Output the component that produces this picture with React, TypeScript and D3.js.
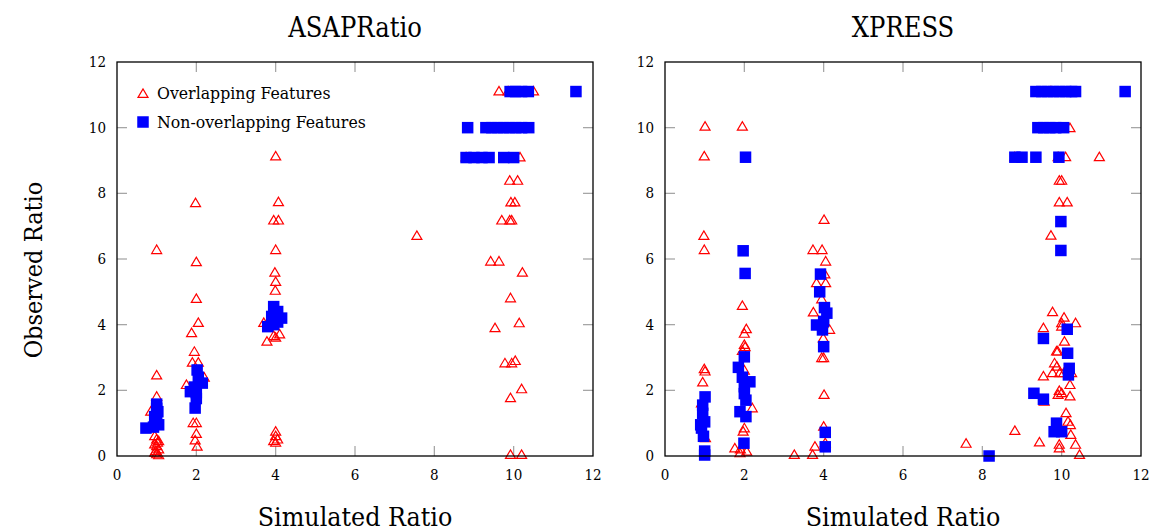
import React from "react";
import * as d3 from "d3";

const xTicks = [0, 2, 4, 6, 8, 10, 12];
const yTicks = [0, 2, 4, 6, 8, 10, 12];
const panelTitles = ["ASAPRatio", "XPRESS"];
const legendLabels = ["Overlapping Features", "Non-overlapping Features"];

const asapOverlapping: [number, number][] = [
  [1.0, 6.27], [1.0, 2.45], [1.0, 1.8], [0.85, 1.35], [1.02, 0.95],
  [0.95, 0.6], [1.0, 0.5], [1.05, 0.45], [0.95, 0.35], [1.0, 0.3], [1.05, 0.2],
  [0.95, 0.1], [1.0, 0.05], [1.05, 0.02], [0.98, 0.15], [1.02, 0.4],
  [1.98, 7.7], [2.0, 5.9], [2.0, 4.78], [2.05, 4.05], [1.88, 3.74], [1.95, 3.17],
  [1.9, 2.84], [2.05, 2.84], [1.75, 2.16], [2.2, 2.38], [1.92, 1.0], [2.0, 1.0],
  [2.0, 0.67], [1.97, 0.47], [2.02, 0.28],
  [4.0, 9.12], [4.07, 7.73], [3.95, 7.17], [4.07, 7.17], [4.0, 6.27], [3.98, 5.58],
  [4.0, 5.3], [3.99, 5.03], [3.7, 4.05], [3.78, 3.48], [3.95, 3.65], [4.1, 3.7],
  [4.0, 3.6], [4.0, 0.74], [4.0, 0.6], [4.05, 0.5], [3.95, 0.45], [4.0, 0.4],
  [7.56, 6.7],
  [9.63, 11.1], [9.86, 11.1], [10.5, 11.1], [8.8, 9.09], [10.16, 9.09],
  [9.9, 8.38], [10.1, 8.38], [9.93, 7.72], [10.03, 7.72], [9.7, 7.17], [9.9, 7.17],
  [9.95, 7.17], [9.42, 5.92], [9.63, 5.92], [10.22, 5.58], [9.92, 4.8], [9.53, 3.89],
  [10.14, 4.04], [9.78, 2.82], [9.95, 2.82], [10.04, 2.89], [10.2, 2.03], [9.92, 1.76],
  [9.92, 0.03], [10.2, 0.03],
];

const asapNonOverlapping: [number, number][] = [
  [0.73, 0.85], [1.0, 1.58], [1.0, 1.1], [1.03, 1.35], [0.92, 0.88], [1.05, 0.95],
  [0.95, 1.2], [1.0, 1.45],
  [2.02, 2.62], [2.15, 2.22], [1.85, 1.96], [2.0, 1.93], [1.97, 1.46], [2.05, 2.4],
  [1.95, 2.1], [2.0, 1.75],
  [3.95, 4.55], [4.05, 4.4], [4.15, 4.2], [3.8, 3.94], [3.95, 4.0], [4.05, 4.08],
  [3.9, 4.25],
  [9.91, 11.1], [10.05, 11.1], [10.2, 11.1], [10.37, 11.1], [11.57, 11.1],
  [8.84, 10.0], [9.3, 10.0], [9.45, 10.0], [9.6, 10.0], [9.75, 10.0], [9.9, 10.0],
  [10.05, 10.0], [10.2, 10.0], [10.38, 10.0],
  [8.8, 9.09], [9.0, 9.09], [9.2, 9.09], [9.38, 9.09], [9.75, 9.09], [10.0, 9.09],
];

const xpressOverlapping: [number, number][] = [
  [1.01, 10.03], [0.99, 9.12], [0.98, 6.7], [0.99, 6.27], [0.99, 2.64], [1.01, 2.57],
  [0.95, 2.24], [0.92, 1.6], [1.02, 0.54],
  [1.95, 10.03], [1.95, 4.57], [2.05, 3.86], [2.0, 3.72], [2.0, 3.38], [2.02, 3.31],
  [1.95, 3.2], [2.2, 1.45], [2.0, 0.84], [1.97, 0.74], [1.76, 0.23], [1.89, 0.08],
  [2.06, 0.13], [2.0, 2.6], [1.9, 0.2],
  [4.01, 7.19], [3.73, 6.27], [3.96, 6.27], [4.05, 5.92], [4.03, 5.53], [3.82, 5.26],
  [4.05, 5.26], [3.95, 4.77], [3.74, 4.37], [4.15, 3.84], [3.99, 3.58], [3.95, 2.98],
  [4.0, 2.98], [4.01, 1.86], [4.0, 0.89], [4.04, 0.39], [3.78, 0.28], [3.72, 0.03],
  [3.26, 0.03],
  [7.59, 0.37],
  [9.73, 11.1], [10.21, 9.98], [8.82, 9.1], [9.91, 9.1], [10.1, 9.1], [10.95, 9.1],
  [9.94, 8.38], [10.0, 8.38], [9.94, 7.72], [10.14, 7.72], [9.73, 6.71], [9.77, 4.38],
  [10.06, 4.21], [10.0, 4.04], [10.0, 3.94], [10.35, 4.04], [9.54, 3.89], [10.07, 3.48],
  [9.87, 3.18], [9.9, 3.18], [9.82, 2.82], [9.88, 2.72], [9.77, 2.52], [9.95, 2.52],
  [10.05, 2.52], [9.54, 2.42], [10.25, 2.52], [10.21, 2.16], [9.94, 1.98], [10.0, 1.91],
  [9.91, 1.86], [10.21, 1.81], [9.56, 1.65], [10.11, 1.3], [10.16, 1.04], [10.22, 0.94],
  [8.82, 0.76], [10.23, 0.64], [9.44, 0.41], [9.94, 0.34], [9.94, 0.23], [10.35, 0.34],
  [10.45, 0.03],
];

const xpressNonOverlapping: [number, number][] = [
  [1.01, 1.8], [0.95, 1.3], [1.0, 1.04], [0.92, 0.85], [0.97, 0.6], [1.0, 0.15],
  [1.0, 0.03], [0.95, 1.55], [0.9, 0.95],
  [2.03, 9.1], [1.97, 6.25], [2.02, 5.56], [2.0, 3.02], [1.85, 2.7], [2.14, 2.26],
  [2.0, 2.11], [2.04, 1.7], [1.89, 1.35], [2.04, 1.2], [1.99, 0.39], [2.0, 1.9], [1.95, 2.4],
  [3.92, 5.54], [3.9, 5.0], [4.02, 4.52], [4.08, 4.35], [3.82, 3.99], [3.97, 3.84],
  [4.0, 3.33], [4.04, 0.72], [4.04, 0.28], [4.0, 4.1],
  [8.17, 0.0],
  [9.35, 11.1], [9.5, 11.1], [9.65, 11.1], [9.8, 11.1], [9.95, 11.1], [10.1, 11.1],
  [10.25, 11.1], [10.35, 11.1], [11.6, 11.1],
  [9.4, 10.0], [9.55, 10.0], [9.7, 10.0], [9.85, 10.0], [10.05, 10.0],
  [8.82, 9.1], [9.0, 9.1], [9.35, 9.1], [9.93, 9.1],
  [9.98, 7.14], [9.98, 6.26], [10.14, 3.86], [9.54, 3.58], [10.15, 3.13], [10.19, 2.67],
  [10.17, 2.47], [9.3, 1.91], [9.54, 1.73], [9.87, 1.0], [9.81, 0.74], [10.0, 0.74],
];

const panels = [
  { overlap: asapOverlapping, nonOverlap: asapNonOverlapping, left: 117, legend: true },
  { overlap: xpressOverlapping, nonOverlap: xpressNonOverlapping, left: 665, legend: false },
];

const W = 476;
const TOP = 62;
const BOTTOM = 456;
const FONT = "'DejaVu Serif Condensed', 'DejaVu Serif', serif";
const RED = "#ff0000";
const BLUE = "#0000ff";
const SQ = 11.5;

function triPath(cx: number, cy: number) {
  const w = 5, h = 8.5;
  return `M${cx - w},${cy + h * 0.4}L${cx + w},${cy + h * 0.4}L${cx},${cy - h * 0.6}Z`;
}

function Panel({ p, title }: { p: typeof panels[number]; title: string }) {
  const x = d3.scaleLinear().domain([0, 12]).range([p.left, p.left + W]);
  const y = d3.scaleLinear().domain([0, 12]).range([BOTTOM, TOP]);
  const tickLen = 10;
  return (
    <g>
      <text x={p.left + W / 2} y={37} textAnchor="middle" fontFamily={FONT} fontSize={27}>{title}</text>
      {xTicks.slice(1, -1).map((t) => (
        <g key={"xt" + t} stroke="#a0a0a0" strokeWidth={1.2}>
          <line x1={x(t)} x2={x(t)} y1={BOTTOM} y2={BOTTOM - tickLen} />
          <line x1={x(t)} x2={x(t)} y1={TOP} y2={TOP + tickLen} />
        </g>
      ))}
      {yTicks.slice(1, -1).map((t) => (
        <g key={"yt" + t} stroke="#a0a0a0" strokeWidth={1.2}>
          <line x1={p.left} x2={p.left + tickLen} y1={y(t)} y2={y(t)} />
          <line x1={p.left + W} x2={p.left + W - tickLen} y1={y(t)} y2={y(t)} />
        </g>
      ))}
      {xTicks.map((t) => (
        <text key={"xl" + t} x={x(t)} y={BOTTOM + 24} textAnchor="middle" fontFamily={FONT} fontSize={15}>{t}</text>
      ))}
      {yTicks.map((t) => (
        <text key={"yl" + t} x={p.left - 11} y={y(t) + 5} textAnchor="end" fontFamily={FONT} fontSize={15}>{t}</text>
      ))}
      {p.overlap.map(([a, b], i) => (
        <path key={"o" + i} d={triPath(x(a), y(b))} fill="none" stroke={RED} strokeWidth={1.2} />
      ))}
      {p.nonOverlap.map(([a, b], i) => (
        <rect key={"n" + i} x={x(a) - SQ / 2} y={y(b) - SQ / 2} width={SQ} height={SQ} fill={BLUE} />
      ))}
      <rect x={p.left} y={TOP} width={W} height={BOTTOM - TOP} fill="none" stroke="#000" strokeWidth={1.3} />
      <text x={p.left + W / 2} y={526} textAnchor="middle" fontFamily={FONT} fontSize={26.5}>Simulated Ratio</text>
      {p.legend && (
        <g>
          <path d={triPath(143, 94)} fill="none" stroke={RED} strokeWidth={1.2} />
          <text x={157} y={99} fontFamily={FONT} fontSize={17.5}>{legendLabels[0]}</text>
          <rect x={143 - SQ / 2} y={122 - SQ / 2} width={SQ} height={SQ} fill={BLUE} />
          <text x={157} y={128} fontFamily={FONT} fontSize={17.5}>{legendLabels[1]}</text>
        </g>
      )}
    </g>
  );
}

export default function App() {
  return (
    <svg width={1152} height={528} style={{ position: "absolute", left: 0, top: 0, background: "#fff" }}>
      <rect width={1152} height={528} fill="#fff" />
      {panels.map((p, i) => (
        <Panel key={i} p={p} title={panelTitles[i]} />
      ))}
      <text transform="translate(42,270) rotate(-90)" textAnchor="middle" fontFamily={FONT} fontSize={25}>Observed Ratio</text>
    </svg>
  );
}
